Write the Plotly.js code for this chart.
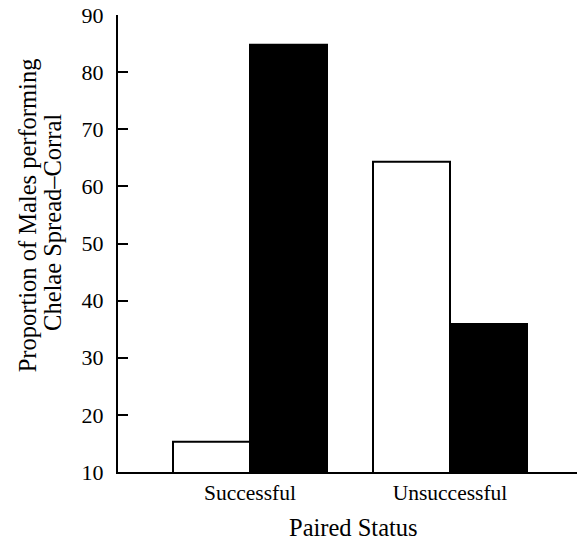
<!DOCTYPE html>
<html>
<head>
<meta charset="utf-8">
<script src="https://cdn.plot.ly/plotly-3.0.1.min.js"></script>
<style>
  html, body { margin: 0; padding: 0; background: #fff; }
  #chart { width: 577px; height: 541px; }
</style>
</head>
<body>
<div id="chart"></div>
<script>
const categories = ["Successful", "Unsuccessful"];
const openValues = [15.3, 64.3];
const filledValues = [84.8, 35.9];
const yTickVals = [10, 20, 30, 40, 50, 60, 70, 80, 90];
const yTitleLines = ["Proportion of Males performing", "Chelae Spread–Corral"];
const xTitle = "Paired Status";

const xPos = categories.map((c, i) => i);
const FONT = "Liberation Serif, Times New Roman, serif";

const traces = [
  {
    type: "bar", name: "Open", x: xPos, y: openValues,
    marker: { color: "#ffffff", line: { color: "#000000", width: 2 } },
    showlegend: false, hoverinfo: "x+y"
  },
  {
    type: "bar", name: "Filled", x: xPos, y: filledValues,
    marker: { color: "#000000", line: { color: "#000000", width: 2 } },
    showlegend: false, hoverinfo: "x+y"
  }
];

const layout = {
  width: 577, height: 541,
  margin: { l: 118, r: 0, t: 15, b: 69 },
  paper_bgcolor: "#ffffff", plot_bgcolor: "#ffffff",
  font: { family: FONT, size: 22, color: "#000000" },
  barmode: "group", bargap: 0.23, bargroupgap: 0,
  xaxis: {
    range: [-0.66, 1.635],
    tickvals: xPos, ticktext: categories,
    showgrid: false, zeroline: false,
    showline: true, linecolor: "#000000", linewidth: 2,
    ticks: "", tickfont: { family: FONT, size: 21.5, color: "#000000" },
    fixedrange: true
  },
  yaxis: {
    range: [10, 90],
    tickvals: yTickVals,
    showgrid: false, zeroline: false,
    showline: true, linecolor: "#000000", linewidth: 2,
    ticks: "inside", ticklen: 10, tickwidth: 2, tickcolor: "#000000",
    ticklabelstandoff: 8,
    tickfont: { family: FONT, size: 22, color: "#000000" },
    fixedrange: true
  },
  annotations: [
    {
      text: yTitleLines[0],
      textangle: -90, xref: "paper", yref: "paper",
      x: -0.198, xanchor: "center",
      y: 0.562, yanchor: "middle",
      showarrow: false, font: { family: FONT, size: 24.5, color: "#000000" }
    },
    {
      text: yTitleLines[1],
      textangle: -90, xref: "paper", yref: "paper",
      x: -0.144, xanchor: "center",
      y: 0.547, yanchor: "middle",
      showarrow: false, font: { family: FONT, size: 24.5, color: "#000000" }
    },
    {
      text: xTitle,
      xref: "paper", yref: "paper",
      x: 0.512, xanchor: "center",
      y: -0.1225, yanchor: "middle",
      showarrow: false, font: { family: FONT, size: 24.5, color: "#000000" }
    }
  ]
};

Plotly.newPlot("chart", traces, layout, { displayModeBar: false, staticPlot: true });
</script>
</body>
</html>
